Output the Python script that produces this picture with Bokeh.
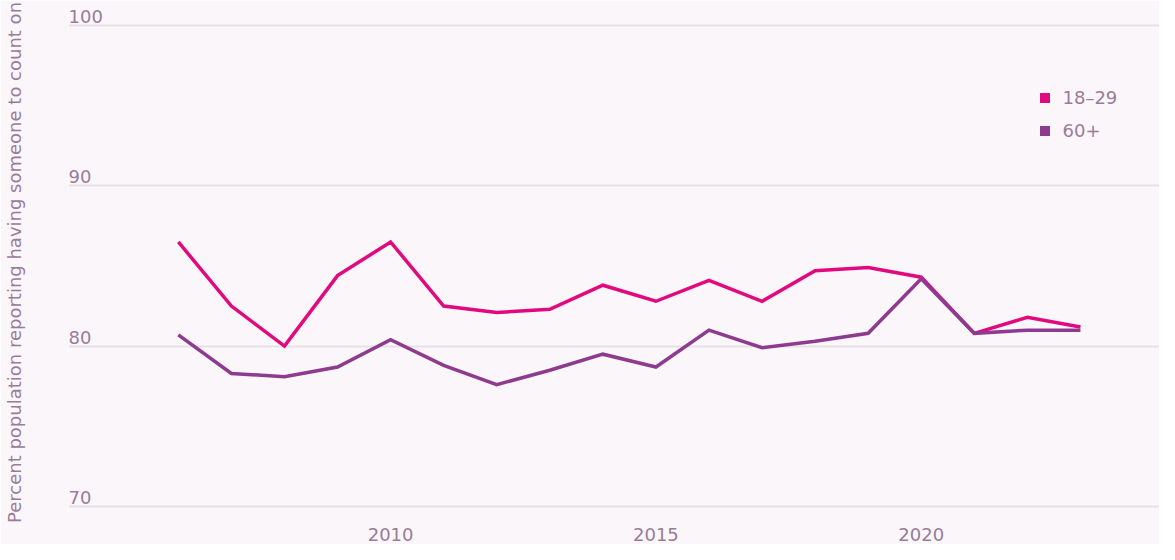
from bokeh.plotting import figure
from bokeh.models import ColumnDataSource, FixedTicker, Legend, LegendItem, Label
from bokeh.embed import file_html
from bokeh.resources import INLINE

years = list(range(2006, 2024))
young = [86.5, 82.5, 80.0, 84.4, 86.5, 82.5, 82.1, 82.3, 83.8, 82.8, 84.1, 82.8, 84.7, 84.9, 84.3, 80.8, 81.8, 81.2]
old = [80.7, 78.3, 78.1, 78.7, 80.4, 78.8, 77.6, 78.5, 79.5, 78.7, 81.0, 79.9, 80.3, 80.8, 84.2, 80.8, 81.0, 81.0]
series_names = ["18\u201329", "60+"]
x_ticks = [2010, 2015, 2020]
y_ticks = [70, 80, 90, 100]

PINK = "#e2097f"
PURPLE = "#8e3a8e"
TEXT = "#9a7c9a"
BG = "#faf6fa"
FONT = "DejaVu Sans"

src = ColumnDataSource(dict(year=years, young=young, old=old))

p = figure(width=1159, height=544, output_backend="svg", toolbar_location=None,
           x_range=(2003.93, 2024.49), y_range=(69.376, 101.06),
           min_border_left=65, min_border_right=0, min_border_top=8, min_border_bottom=28)
p.background_fill_color = BG
p.border_fill_color = BG
p.outline_line_color = None

p.xgrid.grid_line_color = None
p.ygrid.ticker = FixedTicker(ticks=y_ticks)
p.ygrid.grid_line_color = "#e6e1e6"
p.ygrid.grid_line_width = 2

p.xaxis.ticker = FixedTicker(ticks=x_ticks)
p.xaxis.axis_line_color = None
p.xaxis.major_tick_line_color = None
p.xaxis.minor_tick_line_color = None
p.xaxis.major_label_text_color = TEXT
p.xaxis.major_label_text_font = FONT
p.xaxis.major_label_text_font_size = "18px"
p.xaxis.major_label_standoff = 5

p.yaxis.ticker = FixedTicker(ticks=[])
p.yaxis.axis_line_color = None
p.yaxis.major_tick_line_color = None
p.yaxis.minor_tick_line_color = None
p.yaxis.major_tick_out = 0
p.yaxis.major_label_standoff = 0
p.yaxis.axis_label = "Percent population reporting having someone to count on"
p.yaxis.axis_label_text_font = FONT
p.yaxis.axis_label_text_font_style = "normal"
p.yaxis.axis_label_text_font_size = "18px"
p.yaxis.axis_label_text_color = TEXT
p.yaxis.axis_label_standoff = 44

for t in y_ticks:
    p.add_layout(Label(x=0, x_units="screen", y=t, y_units="data", text=str(t),
                       text_font=FONT, text_font_size="18px", text_color=TEXT,
                       text_baseline="alphabetic", text_align="left", y_offset=9))

p.line("year", "young", source=src, line_color=PINK, line_width=3.5, line_join="miter")
p.line("year", "old", source=src, line_color=PURPLE, line_width=3.5, line_join="miter")

s1 = p.scatter("year", "young", source=src, marker="square", size=0, fill_color=PINK, line_color=None)
s2 = p.scatter("year", "old", source=src, marker="square", size=0, fill_color=PURPLE, line_color=None)

legend = Legend(items=[LegendItem(label=series_names[0], renderers=[s1]),
                       LegendItem(label=series_names[1], renderers=[s2])],
                location=(963.5, 373.5), padding=0, margin=0, spacing=8,
                glyph_width=25, glyph_height=25, label_standoff=6,
                border_line_color=None, background_fill_alpha=0,
                label_text_font=FONT, label_text_font_size="18px", label_text_color=TEXT)
p.add_layout(legend)

open("out.html", "w").write(file_html(p, INLINE))
